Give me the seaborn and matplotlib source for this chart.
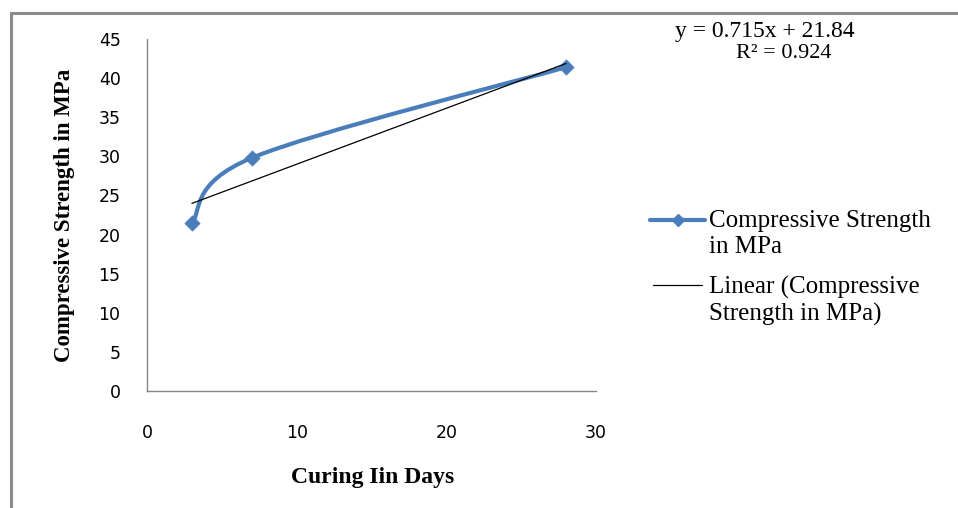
import numpy as np
import pandas as pd
import matplotlib
matplotlib.use("Agg")
import matplotlib.pyplot as plt
from matplotlib.path import Path
from matplotlib.patches import PathPatch, Rectangle
from matplotlib.lines import Line2D
import seaborn as sns

# data
days = [3, 7, 28]
strength = [21.5, 29.8, 41.4]
x_ticks = [0, 10, 20, 30]
y_ticks = [0, 5, 10, 15, 20, 25, 30, 35, 40, 45]
eq_text = "y = 0.715x + 21.84"
r2_text = "R\u00b2 = 0.924"
series_label = "Compressive Strength\nin MPa"
trend_label = "Linear (Compressive\nStrength in MPa)"

BLUE = "#4a7ebb"
GRAY = "#868686"

sns.set_style("white")
plt.rcParams["font.family"] = ["DejaVu Sans"]
plt.rcParams["text.color"] = "black"

df = pd.DataFrame({"days": days, "strength": strength})

W, H = 958, 508
fig = plt.figure(figsize=(W / 100, H / 100), dpi=100)
ax = fig.add_axes([147 / W, 1 - 391 / H, 449 / W, 352 / H])

# outer chart frame (only left/top edges are visible in the crop)
fig.patches.append(Rectangle((11 / W, -0.1), 2, 1.1 - 13 / H, transform=fig.transFigure,
                             fill=False, edgecolor="#8c8c8c", lw=2.2, zorder=0))

# smoothed line like Excel: cubic bezier between points (Catmull-Rom controls)
pts = df[["days", "strength"]].to_numpy(dtype=float)
verts = [pts[0]]
codes = [Path.MOVETO]
for i in range(len(pts) - 1):
    p0 = pts[max(i - 1, 0)]
    p1 = pts[i]
    p2 = pts[i + 1]
    p3 = pts[min(i + 2, len(pts) - 1)]
    verts += [p1 + (p2 - p0) / 6, p2 - (p3 - p1) / 6, p2]
    codes += [Path.CURVE4] * 3
ax.add_patch(PathPatch(Path(verts, codes), facecolor="none", edgecolor=BLUE,
                       lw=3.0, capstyle="round", joinstyle="round", zorder=3))

sns.scatterplot(data=df, x="days", y="strength", marker="D", s=60, color=BLUE,
                edgecolor=BLUE, linewidth=0.5, zorder=4, ax=ax)

# linear trendline
sns.regplot(data=df, x="days", y="strength", scatter=False, ci=None, truncate=True,
            line_kws={"color": "black", "lw": 0.9, "zorder": 5}, ax=ax)

ax.set_xlim(0, 30)
ax.set_ylim(0, 45)
ax.set_xticks(x_ticks)
ax.set_yticks(y_ticks)
sns.despine(ax=ax)
for s in ["left", "bottom"]:
    ax.spines[s].set_color(GRAY)
    ax.spines[s].set_linewidth(1.0)
ax.tick_params(axis="y", direction="out", length=6, width=1, color=GRAY, pad=13,
               labelsize=12.5, labelcolor="black")
ax.tick_params(axis="x", direction="out", length=4.5, width=1, color=GRAY, pad=19,
               labelsize=12.5, labelcolor="black")

serif = ["Liberation Serif", "DejaVu Serif"]
ax.set_xlabel("Curing Iin Days", fontfamily=serif, fontweight="bold", fontsize=17, color="black")
ax.set_ylabel("Compressive Strength in MPa", fontfamily=serif, fontweight="bold", fontsize=16.5,
              color="black")
ax.xaxis.set_label_coords(0.503, (391 - 467) / 352)
ax.yaxis.set_label_coords((75 - 147) / 449, 0.5)

# trendline equation
fig.text(765 / W, 1 - 32 / H, eq_text, ha="center", va="center", fontfamily=serif, fontsize=17)
fig.text(784 / W, 1 - 54 / H, r2_text, ha="center", va="center", fontfamily=serif, fontsize=16)

# legend, handles beside the first line of each label
fig.add_artist(Line2D([650 / W, 705 / W], [1 - 220 / H] * 2, color=BLUE, lw=3.0,
                      transform=fig.transFigure))
fig.add_artist(Line2D([678 / W], [1 - 220 / H], color=BLUE, lw=0, marker="D",
                      markersize=6.5, transform=fig.transFigure))
fig.add_artist(Line2D([653 / W, 702 / W], [1 - 285 / H] * 2, color="black", lw=0.9,
                      transform=fig.transFigure))
fig.text(709 / W, 1 - 210 / H, series_label, ha="left", va="top", fontfamily=serif,
         fontsize=18, linespacing=1.24)
fig.text(709 / W, 1 - 276 / H, trend_label, ha="left", va="top", fontfamily=serif,
         fontsize=18, linespacing=1.24)

fig.savefig("out.png", dpi=100)
